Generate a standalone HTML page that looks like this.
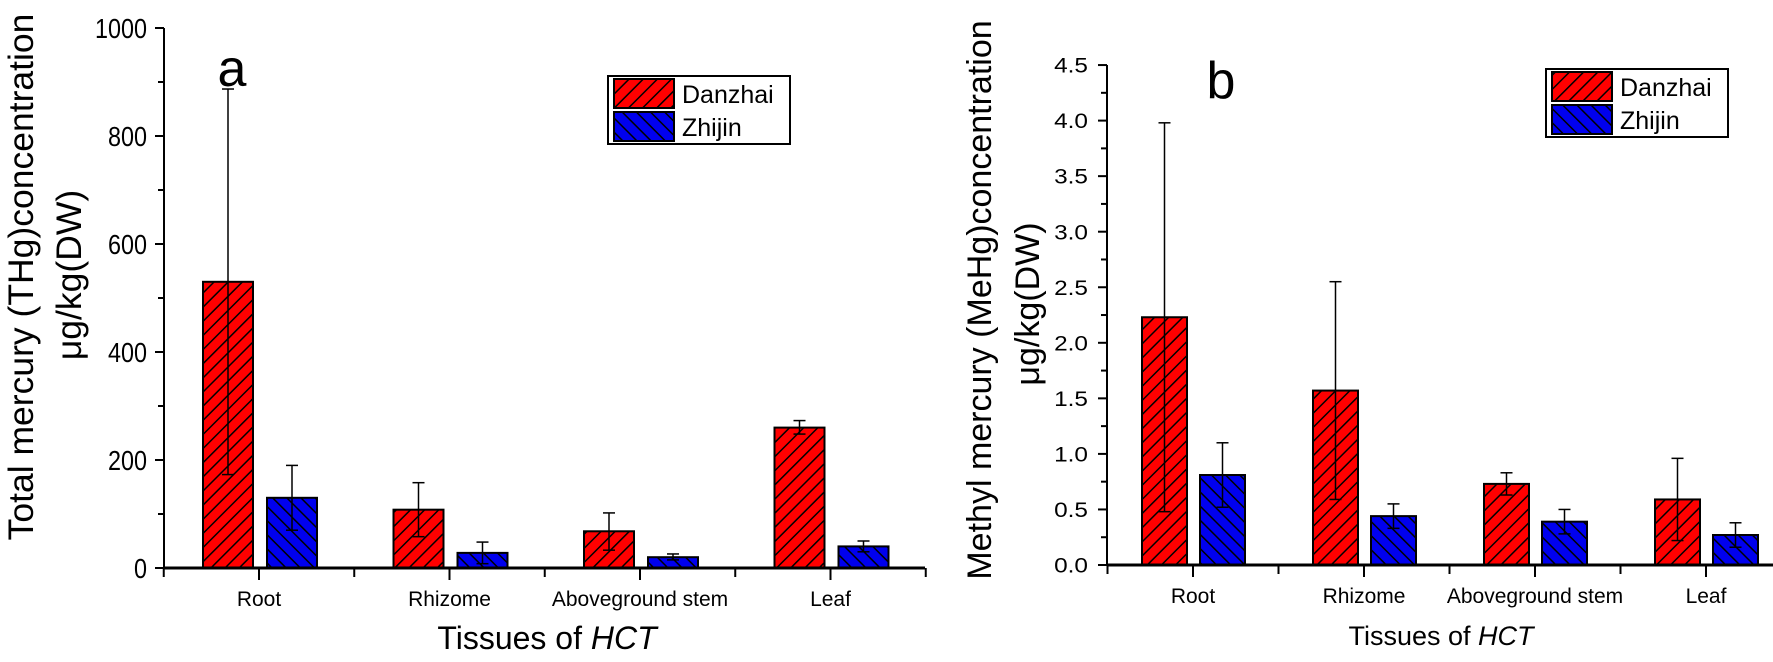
<!DOCTYPE html>
<html><head><meta charset="utf-8"><style>
html,body{margin:0;padding:0;background:#fff;}
svg{display:block;font-family:"Liberation Sans",Arial,sans-serif;}
</style></head><body>
<svg id="s" width="1773" height="662" viewBox="0 0 1773 662" xmlns="http://www.w3.org/2000/svg">
<defs>
<pattern id="hr" patternUnits="userSpaceOnUse" width="10" height="10" patternTransform="rotate(45)">
<rect width="10" height="10" fill="#ff0000"/><line x1="0" y1="0" x2="0" y2="10" stroke="#000" stroke-width="3"/></pattern>
<pattern id="hb" patternUnits="userSpaceOnUse" width="10" height="10" patternTransform="rotate(-45)">
<rect width="10" height="10" fill="#0000ee"/><line x1="0" y1="0" x2="0" y2="10" stroke="#000" stroke-width="3"/></pattern>
</defs>
<g id="g"></g>
</svg>
<script>
var g=document.getElementById('g'),h='';
function L(x1,y1,x2,y2,w){h+='<line x1="'+x1+'" y1="'+y1+'" x2="'+x2+'" y2="'+y2+'" stroke="#000" stroke-width="'+(w||2)+'"/>';}
function T(x,y,s,t,a,extra){h+='<text x="'+x+'" y="'+y+'" font-size="'+s+'" text-anchor="'+(a||'middle')+'" '+(extra||'')+'>'+t+'</text>';}
function chart(o){
 var Y=function(v){return o.y0-v*o.k;};
 o.d.forEach(function(d,i){
  var c=o.c0+i*o.sp;
  [[d[0],d[1],d[2],'hr',c-o.off-o.bw],[d[3],d[4],d[5],'hb',c+o.off2]].forEach(function(b){
   h+='<rect x="'+b[4]+'" y="'+Y(b[0])+'" width="'+o.bw+'" height="'+(o.y0-Y(b[0]))+'" fill="url(#'+b[3]+')" stroke="#000" stroke-width="2"/>';
   var m=b[4]+o.bw/2;L(m,Y(b[1]),m,Y(b[2]),1.5);L(m-6,Y(b[1]),m+6,Y(b[1]),1.5);L(m-6,Y(b[2]),m+6,Y(b[2]),1.5);
  });
  T(c,o.y0+38,o.cf,o.cat[i]);
  L(c,o.y0,c,o.y0+12,2);
  L(c+o.sp/2,o.y0,c+o.sp/2,o.y0+9,2);
 });
 L(o.c0-o.sp/2,o.y0,o.c0-o.sp/2,o.y0+9,2);
 L(o.ax,o.y0,o.xe,o.y0,3);
 L(o.ax,o.y0+1,o.ax,Y(o.max),2);
 for(var v=0;v<=o.max+1e-9;v+=o.step/2){
  var maj=Math.abs(Math.round(v/o.step)*o.step-v)<1e-9;
  L(o.ax-(maj?9:6),Y(v),o.ax,Y(v),2);
  if(maj){var s=o.fmt(v);T(o.lx,Y(v)+o.tf*0.36,o.tf,s,'end','textLength="'+(s.length*o.cw)+'" lengthAdjust="spacingAndGlyphs"');}
 }
}
chart({y0:568,k:0.54,max:1000,step:200,ax:164,xe:925,c0:259,sp:190.5,bw:50,off:6,off2:8,tf:28,cf:21,lx:147,cw:13,
 fmt:function(v){return ''+v;},cat:['Root','Rhizome','Aboveground stem','Leaf'],
 d:[[530,173,887,130,70,190],[108,58,158,28,8,48],[68,33,102,20,15,26],[260,248,273,40,30,50]]});
chart({y0:565,k:111.1,max:4.5,step:0.5,ax:1107,xe:1773,c0:1193,sp:171,bw:45,off:6,off2:7,tf:21,cf:21,lx:1088,cw:11.3,
 fmt:function(v){return v.toFixed(1);},cat:['Root','Rhizome','Aboveground stem','Leaf'],
 d:[[2.23,0.48,3.98,0.81,0.52,1.10],[1.57,0.59,2.55,0.44,0.33,0.55],[0.73,0.63,0.83,0.39,0.28,0.50],[0.59,0.22,0.96,0.27,0.16,0.38]]});
T(547,649,32,'Tissues of <tspan font-style="italic">HCT</tspan>');
T(1441,645,27,'Tissues of <tspan font-style="italic">HCT</tspan>');
h+='<text transform="translate(33,277) rotate(-90)" font-size="35.5" text-anchor="middle">Total mercury (THg)concentration</text>';
h+='<text transform="translate(81,275) rotate(-90)" font-size="35.5" text-anchor="middle">μg/kg(DW)</text>';
h+='<text transform="translate(991,300) rotate(-90)" font-size="34" text-anchor="middle">Methyl mercury (MeHg)concentration</text>';
h+='<text transform="translate(1039,304) rotate(-90)" font-size="34" text-anchor="middle">μg/kg(DW)</text>';
T(232,86,52,'a');T(1221,98,52,'b');
function leg(x,y){
 h+='<rect x="'+x+'" y="'+y+'" width="182" height="68" fill="#fff" stroke="#000" stroke-width="2"/>';
 h+='<rect x="'+(x+6)+'" y="'+(y+3)+'" width="60" height="29" fill="url(#hr)" stroke="#000" stroke-width="2"/>';
 h+='<rect x="'+(x+6)+'" y="'+(y+36)+'" width="60" height="29" fill="url(#hb)" stroke="#000" stroke-width="2"/>';
 T(x+74,y+27,25,'Danzhai','start');T(x+74,y+60,25,'Zhijin','start');
}
leg(608,76);leg(1546,69);
g.innerHTML=h;
</script>
</body></html>
